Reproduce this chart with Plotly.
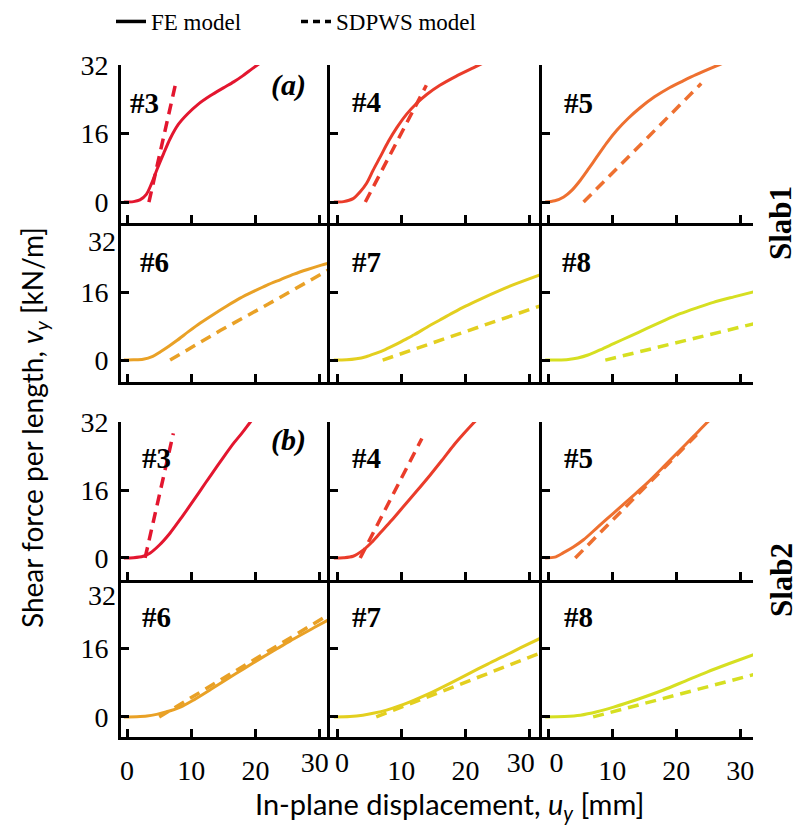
import plotly.graph_objects as go

# ---------------- data: shear force per length v_y [kN/m] vs. displacement u_y [mm]
# Slab1, walls #3-#8 (FE model = solid, SDPWS model = dashed)
s1_w3_fe_u = [-0.5, 1, 2, 3, 3.8, 4.7, 5.7, 6.7, 8, 9.4, 11, 13, 15, 16.6, 18, 19.5, 21]
s1_w3_fe_v = [0, 0.1, 0.5, 1.8, 4.3, 7.8, 11.4, 14.8, 18.2, 20.6, 22.8, 24.9, 26.7, 28.1, 29.5, 31.2, 32.8]
s1_w3_sd_u = [3.4, 7.5]
s1_w3_sd_v = [0, 27.3]

s1_w4_fe_u = [-0.5, 1, 2.5, 3.6, 4.6, 5.6, 6.7, 8, 9.3, 10.8, 12.4, 14, 16, 18.5, 21.2, 23]
s1_w4_fe_v = [0, 0.1, 0.8, 2.4, 4.4, 7.4, 10.5, 14.2, 17.4, 20.5, 23.1, 25.2, 27.3, 29.4, 31.4, 32.7]
s1_w4_sd_u = [4.4, 13.9]
s1_w4_sd_v = [0, 27.3]

s1_w5_fe_u = [-0.5, 1, 2.4, 3.7, 5, 6.3, 7.6, 9.1, 10.7, 12.5, 14.3, 16.6, 19, 21, 23.1, 26.2, 27.5]
s1_w5_fe_v = [0, 0.3, 1.2, 2.8, 5.1, 7.8, 10.6, 13.8, 16.8, 19.6, 22.0, 24.6, 26.8, 28.3, 29.8, 31.8, 32.6]
s1_w5_sd_u = [5.5, 23.9]
s1_w5_sd_v = [0, 27.7]

s1_w6_fe_u = [-0.5, 1, 2.5, 4, 5.2, 6.5, 7.8, 9.6, 11.4, 13.5, 15.6, 17.6, 19.7, 21.8, 23.9, 26, 28.1, 30, 31.6]
s1_w6_fe_v = [0, 0.05, 0.2, 0.9, 2.0, 3.3, 4.7, 6.8, 8.8, 10.9, 12.9, 14.7, 16.3, 17.8, 19.1, 20.4, 21.5, 22.4, 23.1]
s1_w6_sd_u = [6.7, 14.5, 22, 31.6]
s1_w6_sd_v = [0, 7.0, 13.3, 21.6]

s1_w7_fe_u = [-0.5, 1.5, 3, 4.5, 6, 7.5, 9, 10.5, 12, 14, 16, 18, 20, 22.5, 25, 28, 31.9]
s1_w7_fe_v = [0, 0.05, 0.3, 0.8, 1.6, 2.5, 3.6, 4.8, 6.0, 7.8, 9.5, 11.2, 12.8, 14.6, 16.3, 18.2, 20.4]
s1_w7_sd_u = [7.1, 31.9]
s1_w7_sd_v = [0, 13.0]

s1_w8_fe_u = [-0.5, 1.5, 3.1, 4.6, 6.2, 8.2, 10.2, 12.8, 15.4, 18, 20.6, 23.2, 25.8, 29, 32.1]
s1_w8_fe_v = [0, 0.02, 0.15, 0.5, 1.2, 2.5, 3.9, 5.7, 7.5, 9.3, 11.0, 12.4, 13.7, 15.0, 16.2]
s1_w8_sd_u = [8.9, 32.1]
s1_w8_sd_v = [0, 8.6]

# Slab2, walls #3-#8
s2_w3_fe_u = [-0.5, 1, 2.5, 3.6, 5, 6.7, 8.5, 10.4, 12.2, 14, 15.3, 16.6, 18, 19.2, 20.5]
s2_w3_fe_v = [0, 0.05, 0.4, 1.2, 3.0, 5.9, 9.6, 13.7, 17.7, 21.6, 24.4, 27.1, 29.7, 32.1, 34.5]
s2_w3_sd_u = [2.8, 7.2]
s2_w3_sd_v = [0, 29.4]

s2_w4_fe_u = [-0.5, 1, 2.5, 4.1, 5.4, 6.7, 8.5, 10.3, 12.4, 14.5, 16.3, 18.1, 19.7, 21.2, 22.5]
s2_w4_fe_v = [0, 0.05, 0.4, 1.9, 3.7, 5.9, 8.9, 12.1, 15.8, 19.6, 23.0, 26.5, 29.3, 31.8, 33.8]
s2_w4_sd_u = [3.6, 13.2]
s2_w4_sd_v = [0, 28.2]

s2_w5_fe_u = [-0.5, 1, 2.3, 3.9, 5.5, 7.8, 10.2, 12.8, 15.4, 18, 20.6, 22.7, 24.7, 26]
s2_w5_fe_v = [0, 0.2, 1.2, 2.6, 4.3, 7.4, 10.6, 14.1, 17.6, 21.5, 25.5, 28.7, 31.8, 33.6]
s2_w5_sd_u = [4.2, 23.4]
s2_w5_sd_v = [0, 29.4]

s2_w6_fe_u = [-0.5, 1.5, 3.1, 4.6, 6.2, 8.3, 10.4, 13, 15.6, 18.2, 20.8, 23.4, 26, 29, 31.7]
s2_w6_fe_v = [0, 0.05, 0.2, 0.6, 1.2, 2.3, 4.0, 6.4, 8.9, 11.3, 13.7, 16.0, 18.3, 20.8, 23.0]
s2_w6_sd_u = [5.0, 31.7]
s2_w6_sd_v = [0, 24.2]

s2_w7_fe_u = [-0.5, 2, 4, 5.8, 7.7, 9.9, 12.1, 14.4, 17.5, 20.6, 23.2, 25.8, 28.6, 31.9]
s2_w7_fe_v = [0, 0.1, 0.4, 0.9, 1.6, 2.7, 4.0, 5.5, 7.8, 10.2, 12.2, 14.1, 16.2, 18.6]
s2_w7_sd_u = [6.1, 31.9]
s2_w7_sd_v = [0, 15.1]

s2_w8_fe_u = [-0.5, 2.5, 5, 7.6, 10.2, 14.1, 18, 21.4, 24.8, 28.3, 32.1]
s2_w8_fe_v = [0, 0.1, 0.4, 1.2, 2.3, 4.2, 6.3, 8.4, 10.5, 12.5, 14.6]
s2_w8_sd_u = [7.0, 32.1]
s2_w8_sd_v = [0, 9.9]

wall_labels = ["#3", "#4", "#5", "#6", "#7", "#8"]
wall_colors = ["#e3162f", "#ea3c2a", "#ee7030", "#e9a126", "#e3cf1f", "#d6df21"]
x_ticks = [0, 10, 20, 30]
y_ticks = [0, 16, 32]

panels = [
    (s1_w3_fe_u, s1_w3_fe_v, s1_w3_sd_u, s1_w3_sd_v),
    (s1_w4_fe_u, s1_w4_fe_v, s1_w4_sd_u, s1_w4_sd_v),
    (s1_w5_fe_u, s1_w5_fe_v, s1_w5_sd_u, s1_w5_sd_v),
    (s1_w6_fe_u, s1_w6_fe_v, s1_w6_sd_u, s1_w6_sd_v),
    (s1_w7_fe_u, s1_w7_fe_v, s1_w7_sd_u, s1_w7_sd_v),
    (s1_w8_fe_u, s1_w8_fe_v, s1_w8_sd_u, s1_w8_sd_v),
    (s2_w3_fe_u, s2_w3_fe_v, s2_w3_sd_u, s2_w3_sd_v),
    (s2_w4_fe_u, s2_w4_fe_v, s2_w4_sd_u, s2_w4_sd_v),
    (s2_w5_fe_u, s2_w5_fe_v, s2_w5_sd_u, s2_w5_sd_v),
    (s2_w6_fe_u, s2_w6_fe_v, s2_w6_sd_u, s2_w6_sd_v),
    (s2_w7_fe_u, s2_w7_fe_v, s2_w7_sd_u, s2_w7_sd_v),
    (s2_w8_fe_u, s2_w8_fe_v, s2_w8_sd_u, s2_w8_sd_v),
]

# ---------------- layout geometry (pixels in an 800 x 829 canvas)
W, H = 800, 829
col_px = [(121, 330), (330, 542), (542, 753)]
row_px = [(65, 223), (225, 382), (422, 580), (580, 737)]
x_ranges = [(-0.95, 31.6), (-1.1, 31.9), (-1.0, 32.0)]
y_ranges = [(-4.9, 32.05), (-5.2, 32.05), (-5.2, 32.1), (-4.7, 32.05)]

SERIF = "Liberation Serif"
SANS = "Lato"
TICKFONT = dict(family=SERIF, size=28, color="black")

# bottom-row tick labels: edge labels of adjacent columns are nudged apart
# (value, pixel shift) per column, drawn on thin overlay axes
x_edge_labels = [[(30, -5)], [(0, 5), (30, -9)], [(0, 8)]]

fig = go.Figure()
layout_axes = {}
common = dict(showline=True, linecolor="black", linewidth=3, ticks="inside",
              ticklen=8, tickwidth=2.5, tickcolor="black", showgrid=False,
              zeroline=False, fixedrange=True, tickfont=TICKFONT)
overlay_common = dict(ticks="", showline=False, showgrid=False, zeroline=False,
                      fixedrange=True, tickfont=TICKFONT)

for k, (fe_u, fe_v, sd_u, sd_v) in enumerate(panels):
    r, c = divmod(k, 3)
    color = wall_colors[k % 6]
    xa = "x" if k == 0 else f"x{k + 1}"
    ya = "y" if k == 0 else f"y{k + 1}"
    fig.add_trace(go.Scatter(x=fe_u, y=fe_v, mode="lines", xaxis=xa, yaxis=ya,
                             line=dict(color=color, width=3, shape="spline", smoothing=0.8),
                             showlegend=False, hoverinfo="skip"))
    fig.add_trace(go.Scatter(x=sd_u, y=sd_v, mode="lines", xaxis=xa, yaxis=ya,
                             line=dict(color=color, width=3.5, dash="11px,7px"),
                             showlegend=False, hoverinfo="skip"))

    x0, x1 = col_px[c]
    y0, y1 = row_px[r]
    xax = dict(common, domain=[x0 / W, x1 / W], range=list(x_ranges[c]),
               anchor=ya, tickvals=x_ticks, showticklabels=(r == 3),
               ticklabelstandoff=6)
    if r == 3:
        shifted = [v for v, _ in x_edge_labels[c]]
        xax["ticktext"] = ["" if v in shifted else str(v) for v in x_ticks]
    # lower row of each slab: the "32" label sits on its own shifted overlay axis
    yvals = y_ticks if r in (0, 2) else y_ticks[:2]
    layout_axes["xaxis" if k == 0 else f"xaxis{k + 1}"] = xax
    layout_axes["yaxis" if k == 0 else f"yaxis{k + 1}"] = dict(
        common, domain=[1 - y1 / H, 1 - y0 / H], range=list(y_ranges[r]),
        anchor=xa, tickvals=yvals, showticklabels=(c == 0),
        ticklabelstandoff=4)

# overlay y axes carrying the top "32" label of the lower row in each slab
for n, (k, r, shift) in enumerate([(3, 1, 16), (9, 3, 15)]):
    ov = 13 + n
    xa = f"x{k + 1}"
    fig.add_trace(go.Scatter(x=[None], y=[None], xaxis=xa, yaxis=f"y{ov}",
                             showlegend=False, hoverinfo="skip"))
    layout_axes[f"yaxis{ov}"] = dict(
        overlay_common, overlaying=f"y{k + 1}", anchor=xa, range=list(y_ranges[r]),
        tickvals=[32], ticklabelstandoff=4, ticklabelshift=shift)

# overlay x axes carrying the nudged edge labels of the bottom row
ov = 13
for c in range(3):
    k = 9 + c
    for val, shift in x_edge_labels[c]:
        fig.add_trace(go.Scatter(x=[None], y=[None], xaxis=f"x{ov}", yaxis=f"y{k + 1}",
                                 showlegend=False, hoverinfo="skip"))
        layout_axes[f"xaxis{ov}"] = dict(
            overlay_common, overlaying=f"x{k + 1}", anchor=f"y{k + 1}",
            range=list(x_ranges[c]), tickvals=[val], ticktext=[str(val)],
            ticklabelstandoff=6, ticklabelshift=shift)
        ov += 1

# legend entries (black line samples)
fig.add_trace(go.Scatter(x=[None], y=[None], mode="lines", name="FE model",
                         line=dict(color="black", width=3.5)))
fig.add_trace(go.Scatter(x=[None], y=[None], mode="lines", name="SDPWS model",
                         line=dict(color="black", width=3.5, dash="7px,5px")))

annotations = []
# wall labels inside each panel (left edge, vertical centre in px)
label_pos = [(128, 103), (350, 102), (562, 103),
             (138, 262), (350, 262), (560, 262),
             (140, 458), (350, 458), (562, 458),
             (140, 617), (350, 617), (562, 617)]
for k, (px, py) in enumerate(label_pos):
    annotations.append(dict(text=f"<b>{wall_labels[k % 6]}</b>", x=px / W, y=1 - py / H,
                            xref="paper", yref="paper", xanchor="left", yanchor="middle",
                            showarrow=False, font=dict(family=SERIF, size=29, color="black")))
for txt, py in [("(a)", 85), ("(b)", 440)]:
    annotations.append(dict(text=f"<b><i>{txt}</i></b>", x=269 / W, y=1 - py / H,
                            xref="paper", yref="paper", xanchor="left", yanchor="middle",
                            showarrow=False, font=dict(family=SERIF, size=30, color="black")))
for txt, py in [("Slab1", 223), ("Slab2", 580)]:
    annotations.append(dict(text=f"<b>{txt}</b>", x=781 / W, y=1 - py / H,
                            xref="paper", yref="paper", xanchor="center", yanchor="middle",
                            textangle=-90, showarrow=False,
                            font=dict(family=SERIF, size=31, color="black")))
annotations.append(dict(text="Shear force per length, <i>v</i><sub><i>y</i></sub> [kN/m]",
                        x=34 / W, y=1 - 428 / H, xref="paper", yref="paper",
                        xanchor="center", yanchor="middle", textangle=-90, showarrow=False,
                        font=dict(family=SANS, size=28, color="black")))
annotations.append(dict(text="In-plane displacement, <i>u</i><sub><i>y</i></sub> [mm]",
                        x=449 / W, y=1 - 805 / H, xref="paper", yref="paper",
                        xanchor="center", yanchor="middle", showarrow=False,
                        font=dict(family=SANS, size=29, color="black")))

fig.update_layout(
    width=W, height=H,
    margin=dict(l=0, r=0, t=0, b=0, autoexpand=False),
    paper_bgcolor="white", plot_bgcolor="white",
    showlegend=True,
    legend=dict(orientation="h", x=111 / W, y=1.0, xanchor="left", yanchor="top",
                font=dict(family=SERIF, size=23, color="black"),
                bgcolor="rgba(0,0,0,0)", entrywidth=140, entrywidthmode="pixels"),
    annotations=annotations,
    **layout_axes,
)

fig.write_html("out.html")
